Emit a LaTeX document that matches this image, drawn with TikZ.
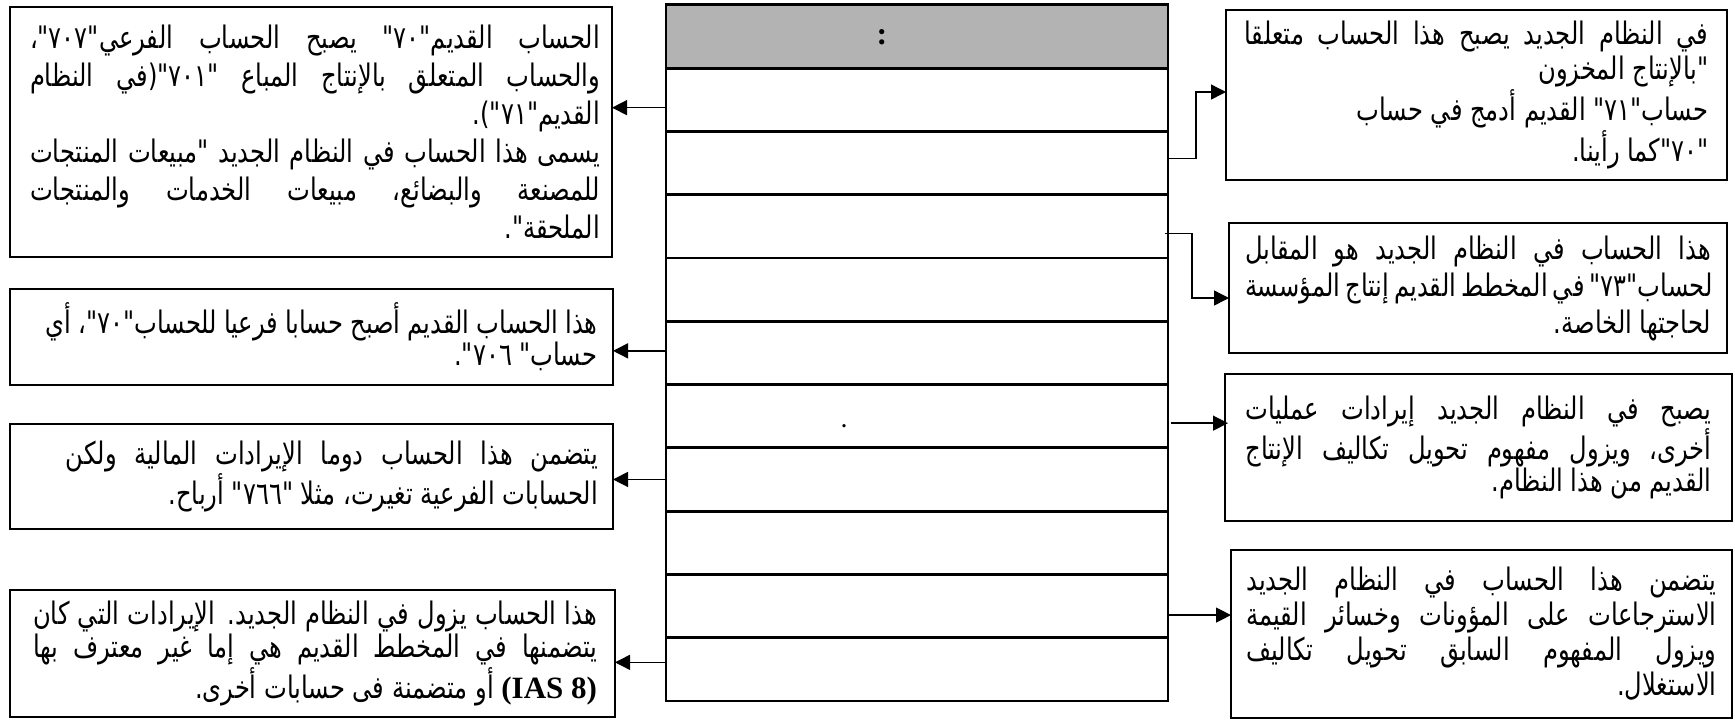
\documentclass[tikz,border=0pt]{standalone}
\usepackage{fontspec}
\setmainfont{Liberation Serif}
\newfontfamily\ar[Script=Arabic,FakeStretch=0.78]{DejaVu Sans}
\newfontfamily\lat{Liberation Serif}
\TeXXeTstate=1
\usetikzlibrary{arrows.meta}
\newcommand\J[1]{\hbox to \hsize{\beginR #1\endR}}
\newcommand\E[1]{\hbox to \hsize{\hfill\beginR #1\endR}}
\newcommand\T[4]{\hbox{\kern#2\vbox{\hsize=#1\ar\fontsize{15.5}{#3}\selectfont #4}}}
\tikzset{
  box/.style={draw, line width=0.9pt, inner sep=0pt, outer sep=0pt},
  rowbox/.style={draw, line width=1.4pt, inner sep=0pt, outer sep=0pt, minimum width=251pt, minimum height=31.65pt},
  hdrbox/.style={rowbox, fill=hdrgray},
  conn/.style={line width=0.7pt},
  arr/.style={conn, -{Triangle[length=7.5pt,width=7.5pt]}}
}
\definecolor{hdrgray}{HTML}{B3B3B3}
\begin{document}
\begin{tikzpicture}[x=0.5pt,y=-0.5pt]
\useasboundingbox (0,0) rectangle (1735,720);
% table
\node[hdrbox] (hd) at (917,36.5) {};
\node[inner sep=0pt, font=\fontsize{16}{16}\selectfont\bfseries] (colon) at (882,37) {:};
\foreach \i in {1,...,10}{
  \pgfmathsetmacro\yy{68+(\i-0.5)*63.3}
  \node[rowbox] (r\i) at (917,\yy) {};
}
\node[inner sep=0pt] (dot) at (844,426) {\bfseries .};
% left boxes
\node[box, minimum width=301pt, minimum height=125pt] (L1) at (311,132) {\T{285pt}{4pt}{19pt}{%
\J{الحساب القديم"٧٠" يصبح الحساب الفرعي"٧٠٧"،}
\J{والحساب المتعلق بالإنتاج المباع "٧٠١"(في النظام}
\E{القديم"٧١").}
\J{يسمى هذا الحساب في النظام الجديد "مبيعات المنتجات}
\J{للمصنعة والبضائع، مبيعات الخدمات والمنتجات}
\E{الملحقة".}}};
\node[box, minimum width=301.5pt, minimum height=48pt] (L2) at (311.5,337) {\T{276pt}{10pt}{16pt}{%
\J{هذا الحساب القديم أصبح حسابا فرعيا للحساب"٧٠"، أي}
\E{حساب" ٧٠٦".}}};
\node[box, minimum width=301.5pt, minimum height=52.5pt] (L3) at (311.5,476.5) {\T{266pt}{20.5pt}{16pt}{%
\J{يتضمن هذا الحساب دوما الإيرادات المالية ولكن}
\E{الحسابات الفرعية تغيرت، مثلا "٧٦٦" أرباح.}}};
\node[box, minimum width=302.5pt, minimum height=63.5pt] (L4) at (312.5,653.5) {\T{282pt}{2.5pt}{16.5pt}{%
\J{هذا الحساب يزول في النظام الجديد. الإيرادات التي كان}
\J{يتضمنها في المخطط القديم هي إما غير معترف بها}
\E{{\lat\bfseries\beginL(IAS 8)\endL} أو متضمنة فى حسابات أخرى.}}};
% right boxes
\node[box, minimum width=250.5pt, minimum height=85pt] (R1) at (1476.5,95) {\T{232pt}{0pt}{17.5pt}{%
\J{في النظام الجديد يصبح هذا الحساب متعلقا}
\E{"بالإنتاج المخزون}
\E{حساب"٧١" القديم أدمج في حساب}
\E{"٧٠"كما رأينا.}}};
\node[box, minimum width=249pt, minimum height=65pt] (R2) at (1478,288) {\T{233pt}{0pt}{18.5pt}{%
\J{هذا الحساب في النظام الجديد هو المقابل}
\J{لحساب"٧٣" في المخطط القديم إنتاج المؤسسة}
\E{لحاجتها الخاصة.}}};
\node[box, minimum width=253.5pt, minimum height=73.5pt] (R3) at (1478.5,447.5) {\T{233pt}{0pt}{16pt}{%
\J{يصبح في النظام الجديد إيرادات عمليات}
\J{أخرى، ويزول مفهوم تحويل تكاليف الإنتاج}
\E{القديم من هذا النظام.}}};
\node[box, minimum width=250.5pt, minimum height=84pt] (R4) at (1481.5,634) {\T{235pt}{0pt}{17.5pt}{%
\J{يتضمن هذا الحساب في النظام الجديد}
\J{الاسترجاعات على المؤونات وخسائر القيمة}
\J{ويزول المفهوم السابق تحويل تكاليف}
\E{الاستغلال.}}};
% left connectors
\draw[arr] ([yshift=-4pt]r1.west) -- ([yshift=-4pt]r1.west -| L1.east);
\draw[arr] ([yshift=1pt]r5.west) -- ([yshift=1pt]r5.west -| L2.east);
\draw[arr] (r7.west) -- (r7.west -| L3.east);
\draw[arr] ([yshift=3.5pt]r10.west) -- ([yshift=3.5pt]r10.west -| L4.east);
% right connectors
\draw[arr] ([yshift=2.3pt]r2.east) -- ++(14pt,0) |- ([yshift=1.5pt]R1.west);
\draw[arr] ([xshift=-1.5pt,yshift=-3.5pt]r3.east) -- ++(13.5pt,0) |- ([yshift=-5pt]R2.west);
\draw[arr] ([xshift=1.5pt,yshift=-3.5pt]r6.east) -- ([xshift=1.5pt,yshift=-3.5pt]r6.east -| R3.west);
\draw[arr] ([yshift=-4.5pt]r9.east) -- ([yshift=-4.5pt]r9.east -| R4.west);
\end{tikzpicture}
\end{document}
